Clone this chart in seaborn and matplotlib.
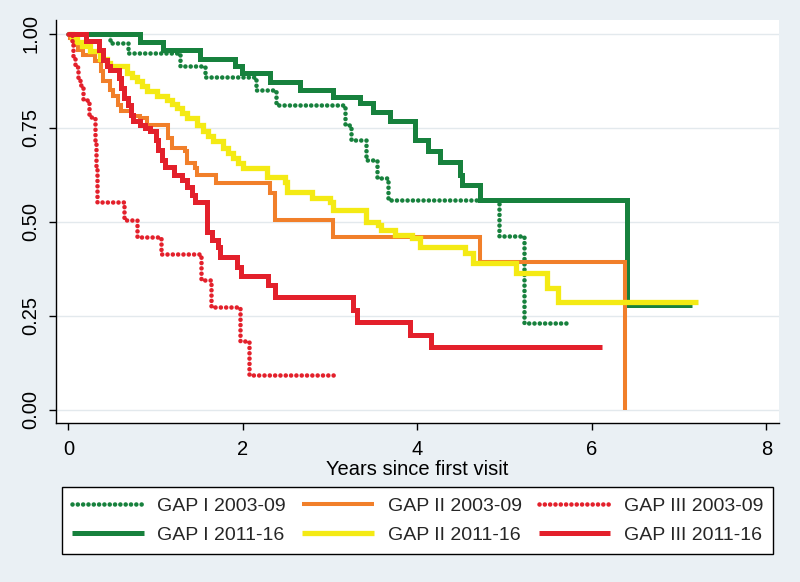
import matplotlib
matplotlib.use("Agg")
import matplotlib.pyplot as plt
import seaborn as sns
from matplotlib import font_manager

# ---------------- data (Kaplan-Meier step curves) ----------------
gap1_0309_t = [0, 0.48, 0.68, 1.28, 1.57, 2.15, 2.38, 3.17, 3.24, 3.41, 3.54, 3.66, 4.93, 5.22, 5.72]
gap1_0309_s = [1.0, 0.976, 0.949, 0.914, 0.884, 0.851, 0.811, 0.758, 0.718, 0.665, 0.617, 0.559, 0.463, 0.231, 0.231]

gap1_1116_t = [0, 0.82, 1.08, 1.51, 1.91, 1.99, 2.31, 2.65, 3.03, 3.34, 3.49, 3.69, 3.97, 4.12, 4.26, 4.49, 4.51, 4.72, 6.40, 7.15]
gap1_1116_s = [1.0, 0.979, 0.957, 0.934, 0.915, 0.896, 0.872, 0.851, 0.832, 0.816, 0.793, 0.769, 0.718, 0.689, 0.66, 0.625, 0.598, 0.559, 0.279, 0.279]

gap2_0309_t = [0, 0.02, 0.06, 0.11, 0.17, 0.30, 0.37, 0.40, 0.48, 0.51, 0.57, 0.60, 0.73, 0.82, 0.90, 1.14, 1.19, 1.34, 1.36, 1.45, 1.47, 1.69, 2.31, 2.37, 3.03, 4.72, 6.38]
gap2_0309_s = [1.0, 0.989, 0.971, 0.957, 0.944, 0.928, 0.902, 0.875, 0.851, 0.835, 0.811, 0.795, 0.782, 0.777, 0.758, 0.723, 0.697, 0.689, 0.657, 0.644, 0.625, 0.604, 0.577, 0.505, 0.46, 0.394, 0.0]

gap2_1116_t = [0, 0.04, 0.10, 0.16, 0.25, 0.36, 0.44, 0.48, 0.67, 0.73, 0.79, 0.84, 0.90, 1.02, 1.13, 1.19, 1.24, 1.30, 1.36, 1.47,
               1.54, 1.60, 1.66, 1.77, 1.83, 1.89, 1.94, 2.00, 2.28, 2.48, 2.51, 2.79, 3.00, 3.03, 3.41, 3.55, 3.58, 3.74, 3.94, 4.03,
               4.55, 4.64, 5.13, 5.48, 5.61, 7.21]
gap2_1116_s = [1.0, 0.989, 0.979, 0.968, 0.955, 0.934, 0.923, 0.915, 0.896, 0.886, 0.875, 0.862, 0.848, 0.835, 0.824, 0.814, 0.803, 0.79, 0.777, 0.758,
               0.742, 0.729, 0.715, 0.697, 0.684, 0.670, 0.657, 0.644, 0.620, 0.606, 0.580, 0.564, 0.553, 0.532, 0.500, 0.492, 0.479, 0.465, 0.457, 0.434,
               0.418, 0.391, 0.364, 0.324, 0.287, 0.287]

gap3_0309_t = [0, 0.04, 0.05, 0.08, 0.11, 0.13, 0.17, 0.24, 0.30, 0.32, 0.33, 0.64, 0.79, 1.06, 1.52, 1.63, 1.97, 2.07, 3.08]
gap3_0309_s = [1.0, 0.971, 0.936, 0.912, 0.883, 0.864, 0.824, 0.779, 0.718, 0.646, 0.553, 0.505, 0.46, 0.415, 0.346, 0.274, 0.184, 0.093, 0.093]

gap3_1116_t = [0, 0.20, 0.35, 0.40, 0.44, 0.48, 0.58, 0.60, 0.64, 0.68, 0.72, 0.74, 0.82, 0.88, 0.94, 1.00, 1.03, 1.07, 1.11, 1.21,
               1.30, 1.36, 1.42, 1.45, 1.59, 1.65, 1.71, 1.74, 1.93, 1.98, 2.29, 2.37, 3.26, 3.31, 3.92, 4.15, 6.12]
gap3_1116_s = [1.0, 0.981, 0.957, 0.931, 0.915, 0.904, 0.883, 0.856, 0.830, 0.811, 0.785, 0.769, 0.758, 0.75, 0.742, 0.718, 0.691, 0.665, 0.646, 0.625,
               0.612, 0.593, 0.572, 0.553, 0.473, 0.452, 0.434, 0.407, 0.380, 0.356, 0.332, 0.301, 0.266, 0.234, 0.199, 0.168, 0.168]

labels = ["GAP I 2003-09", "GAP I 2011-16", "GAP II 2003-09", "GAP II 2011-16", "GAP III 2003-09", "GAP III 2011-16"]
x_ticks = [0, 2, 4, 6, 8]
y_ticks = [0.0, 0.25, 0.50, 0.75, 1.00]
y_tick_labels = ["0.00", "0.25", "0.50", "0.75", "1.00"]
x_label = "Years since first visit"

# ---------------- style ----------------
BG = "#EAF0F4"
GREEN = "#17813D"
ORANGE = "#F17F2A"
YELLOW = "#F4EA14"
RED = "#E3202B"
DOT = (0, (0.01, 1.15))

sns.set_theme(style="white")
avail = {f.name for f in font_manager.fontManager.ttflist}
fam = "Liberation Sans Narrow" if "Liberation Sans Narrow" in avail else "Liberation Sans"
plt.rcParams["font.family"] = [fam, "DejaVu Sans"]

fig = plt.figure(figsize=(8.0, 5.82), dpi=100, facecolor=BG)
ax = fig.add_axes([0.07, 0.273, 0.904, 0.693])
ax.set_facecolor("white")

series = [
    (gap1_0309_t, gap1_0309_s, GREEN, 3.3, DOT),
    (gap1_1116_t, gap1_1116_s, GREEN, 3.6, "-"),
    (gap2_0309_t, gap2_0309_s, ORANGE, 2.9, "-"),
    (gap2_1116_t, gap2_1116_s, YELLOW, 3.8, "-"),
    (gap3_0309_t, gap3_0309_s, RED, 3.3, DOT),
    (gap3_1116_t, gap3_1116_s, RED, 3.6, "-"),
]

for (t, s, c, lw, ls), lab in zip(series, labels):
    sns.lineplot(x=t, y=s, ax=ax, color=c, linewidth=lw, linestyle=ls,
                 drawstyle="steps-post", estimator=None, sort=False, label=lab,
                 dash_capstyle="round", solid_capstyle="butt", solid_joinstyle="miter")

handles, labs = ax.get_legend_handles_labels()
if ax.get_legend() is not None:
    ax.get_legend().remove()

ax.set_xlim(-0.143, 8.146)
ax.set_ylim(-0.035, 1.037)
ax.set_xticks(x_ticks)
ax.set_xticklabels([str(v) for v in x_ticks])
ax.set_yticks(y_ticks)
ax.set_yticklabels(y_tick_labels, rotation=90, va="center")
ax.tick_params(axis="both", direction="out", length=5, width=1, color="black",
               labelsize=14.5, labelcolor="black", left=True, bottom=True)
ax.tick_params(axis="x", pad=7)
ax.tick_params(axis="y", pad=6)
ax.grid(axis="y", color="#E3E9ED", linewidth=1)
ax.grid(axis="x", visible=False)
ax.set_axisbelow(True)
for side in ["top", "right"]:
    ax.spines[side].set_visible(False)
for side in ["left", "bottom"]:
    ax.spines[side].set_color("black")
    ax.spines[side].set_linewidth(1)
ax.set_xlabel(x_label, fontsize=14.5, color="black", labelpad=1)
ax.set_ylabel("")

leg = fig.legend(handles, labs, loc="center", bbox_to_anchor=(0.0775, 0.0464, 0.889, 0.1186),
                 mode="expand", ncol=3, frameon=True, fancybox=False, edgecolor="black",
                 facecolor="white", fontsize=14, handlelength=3.7, handletextpad=0.7,
                 labelspacing=0.6, borderpad=0.5, borderaxespad=0, columnspacing=1.0)
leg.get_frame().set_linewidth(1)
leg.get_frame().set_alpha(1)

fig.savefig("out.png", dpi=100, facecolor=BG)
